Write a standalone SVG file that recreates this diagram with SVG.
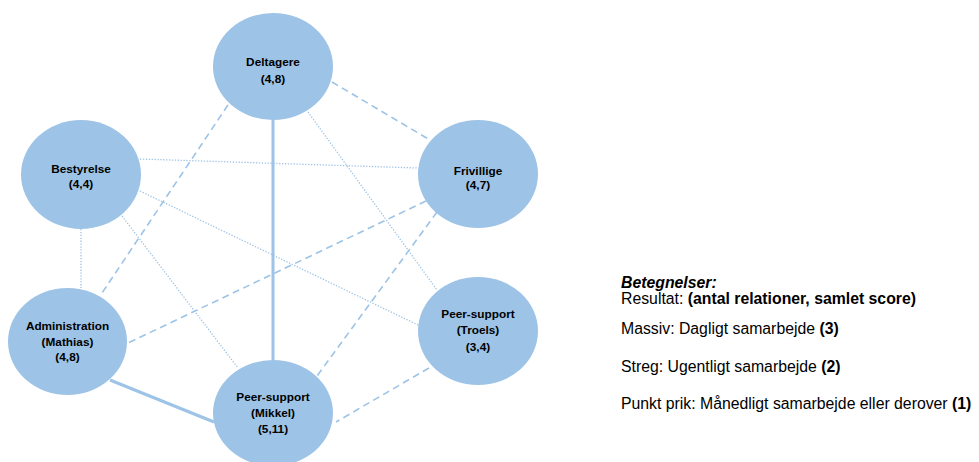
<svg xmlns="http://www.w3.org/2000/svg" width="979" height="462" viewBox="0 0 979 462">
<style>
.bg{fill:#ffffff}
.node{fill:#9dc3e6}
.nt{font-family:"Liberation Sans",Arial,sans-serif;font-weight:bold;font-size:11.8px;fill:#000;text-anchor:middle}
.e{stroke:#9dc3e6;fill:none}
.solid{stroke-width:3}
.dash{stroke-width:1.6;stroke-dasharray:7 4.5}
.dot{stroke-width:1.3;stroke-dasharray:1.3 1.6}
.lg{font-family:"Liberation Sans",Arial,sans-serif;font-size:15.8px;fill:#000}
.b{font-weight:bold}
</style>
<rect class="bg" x="0" y="0" width="979" height="462"/>
<g id="connectors">
<line class="e solid" x1="273" y1="118" x2="273" y2="361"/>
<line class="e solid" x1="110" y1="380" x2="214" y2="422"/>
<line class="e dash" x1="332" y1="82" x2="430" y2="140"/>
<line class="e dash" x1="228" y1="105" x2="100" y2="296"/>
<line class="e dot" x1="308" y1="112" x2="437" y2="290"/>
<line class="e dot" x1="140" y1="159" x2="418" y2="168"/>
<line class="e dot" x1="140" y1="191" x2="418" y2="325"/>
<line class="e dot" x1="122" y1="216" x2="238" y2="368"/>
<line class="e dot" x1="81" y1="229" x2="81" y2="288"/>
<line class="e dash" x1="426" y1="201" x2="128" y2="343"/>
<line class="e dash" x1="437" y1="212" x2="317" y2="376"/>
<line class="e dash" x1="429" y1="368" x2="336" y2="422"/>
</g>
<g id="deltagere">
<ellipse class="node" cx="273" cy="66.5" rx="60" ry="53.5"/>
<text class="nt" x="273" y="66">Deltagere</text>
<text class="nt" x="273" y="83">(4,8)</text>
</g>
<g id="bestyrelse">
<ellipse class="node" cx="81" cy="174.5" rx="60" ry="54.5"/>
<text class="nt" x="81" y="173">Bestyrelse</text>
<text class="nt" x="81" y="188">(4,4)</text>
</g>
<g id="frivillige">
<ellipse class="node" cx="478" cy="174" rx="60" ry="54"/>
<text class="nt" x="478" y="174.5">Frivillige</text>
<text class="nt" x="478" y="189">(4,7)</text>
</g>
<g id="administration">
<ellipse class="node" cx="67.5" cy="341.5" rx="59.5" ry="53.5"/>
<text class="nt" x="67.5" y="330">Administration</text>
<text class="nt" x="67.5" y="346">(Mathias)</text>
<text class="nt" x="67.5" y="361">(4,8)</text>
</g>
<g id="peer-mikkel">
<ellipse class="node" cx="273" cy="413" rx="60" ry="53"/>
<text class="nt" x="273" y="401">Peer-support</text>
<text class="nt" x="273" y="417">(Mikkel)</text>
<text class="nt" x="273" y="433">(5,11)</text>
</g>
<g id="peer-troels">
<ellipse class="node" cx="478" cy="331" rx="60" ry="54"/>
<text class="nt" x="478" y="318">Peer-support</text>
<text class="nt" x="478" y="334">(Troels)</text>
<text class="nt" x="478" y="351">(3,4)</text>
</g>
<g id="legend">
<text class="lg b" x="621" y="288" font-style="italic">Betegnelser:</text>
<text class="lg" x="621" y="304">Resultat: <tspan class="b">(antal relationer, samlet score)</tspan></text>
<text class="lg" x="621" y="334">Massiv: Dagligt samarbejde <tspan class="b">(3)</tspan></text>
<text class="lg" x="621" y="372">Streg: Ugentligt samarbejde <tspan class="b">(2)</tspan></text>
<text class="lg" x="621" y="409">Punkt prik: Månedligt samarbejde eller derover <tspan class="b">(1)</tspan></text>
</g>
</svg>
